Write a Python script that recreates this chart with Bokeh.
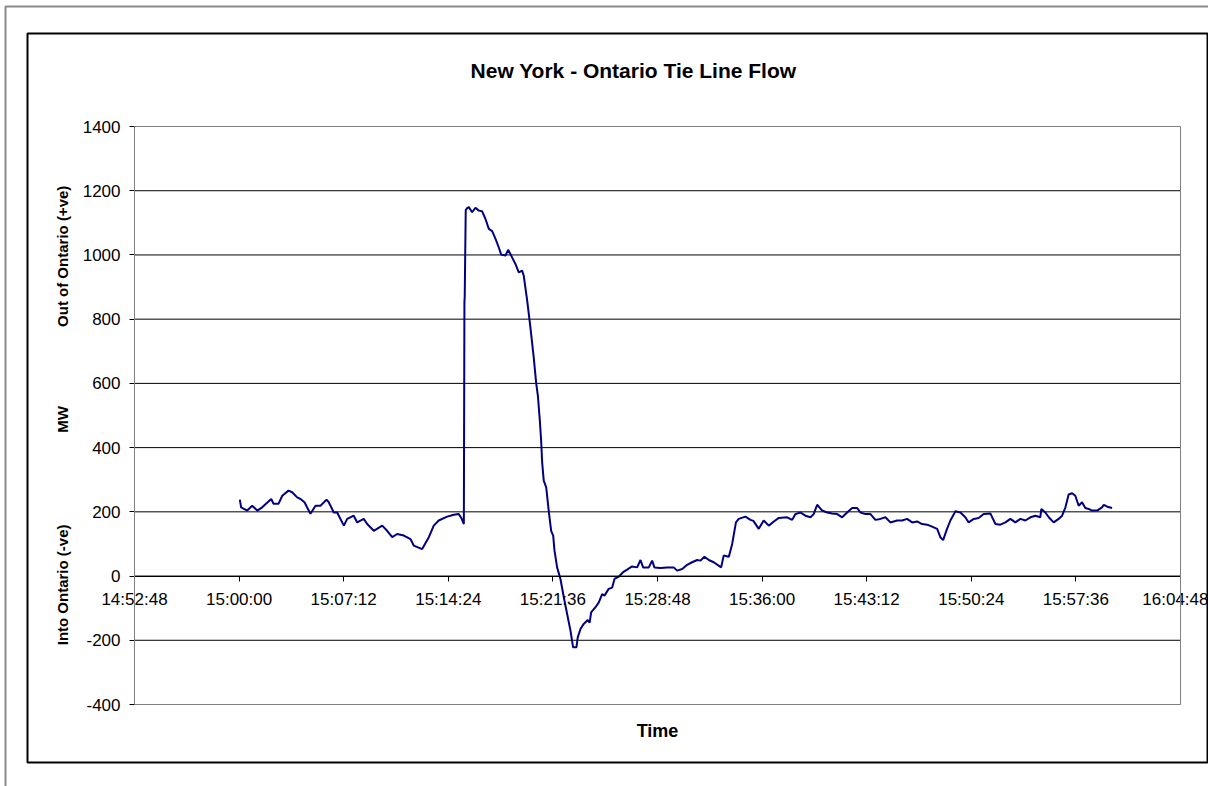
import pandas as pd
from bokeh.plotting import figure
from bokeh.models import (Range1d, FixedTicker, DatetimeTickFormatter, Label,
                          LinearAxis, DatetimeAxis, BoxAnnotation,
                          NumeralTickFormatter)
from bokeh.embed import file_html
from bokeh.resources import INLINE

# ---------------- data ----------------
title_text = "New York - Ontario Tie Line Flow"
x_title = "Time"
y_title_mid = "MW"
y_title_top = "Out of Ontario (+ve)"
y_title_bottom = "Into Ontario (-ve)"

event_date = "2003-08-14"
start_time = "15:00:00"

minutes_after_1500 = [
    0.05, 0.14, 0.56, 0.90, 1.25, 1.59, 2.21, 2.37, 2.71, 2.97,
    3.40, 3.65, 4.00, 4.23, 4.50, 4.91, 5.26, 5.60, 6.02, 6.17,
    6.52, 6.75, 7.21, 7.44, 7.89, 8.13, 8.58, 8.82, 9.27, 9.85,
    10.19, 10.54, 10.88, 11.34, 11.80, 12.02, 12.60, 13.06, 13.40, 13.74,
    14.32, 14.78, 15.12, 15.31, 15.47, 15.51, 15.53, 15.60, 15.70, 15.81,
    16.04, 16.27, 16.50, 16.73, 16.96, 17.19, 17.42, 17.65, 17.87, 18.04,
    18.33, 18.52, 18.73, 19.02, 19.25, 19.48, 19.59, 19.83, 20.05, 20.28,
    20.45, 20.57, 20.70, 20.79, 20.86, 20.97, 21.14, 21.31, 21.48, 21.62,
    21.71, 21.89, 22.12, 22.35, 22.58, 22.81, 22.99, 23.22, 23.31, 23.50,
    23.72, 24.00, 24.13, 24.23, 24.53, 24.76, 24.99, 25.15, 25.44, 25.68,
    25.84, 26.13, 26.43, 26.71, 27.05, 27.40, 27.63, 27.81, 28.20, 28.43,
    28.59, 29.00, 29.46, 29.92, 30.15, 30.50, 30.84, 31.18, 31.53, 31.76,
    32.03, 32.33, 32.67, 33.18, 33.36, 33.71, 33.94, 34.20, 34.39, 34.85,
    35.20, 35.40, 35.77, 36.11, 36.46, 36.81, 37.15, 37.72, 38.07, 38.29,
    38.64, 38.98, 39.33, 39.55, 39.79, 40.13, 40.48, 40.82, 41.17, 41.51,
    41.85, 42.20, 42.54, 42.77, 43.12, 43.46, 43.80, 44.14, 44.49, 44.83,
    45.29, 45.64, 45.98, 46.33, 46.67, 47.01, 47.36, 47.70, 48.05, 48.27,
    48.46, 48.73, 48.96, 49.31, 49.65, 49.99, 50.22, 50.57, 50.91, 51.25,
    51.71, 52.06, 52.40, 52.75, 53.09, 53.43, 53.78, 54.12, 54.47, 54.81,
    55.15, 55.22, 55.50, 55.73, 56.07, 56.41, 56.65, 56.88, 57.10, 57.34,
    57.56, 57.79, 58.02, 58.25, 58.48, 58.71, 59.06, 59.40, 59.52, 59.76,
    60.09,
]

mw = [
    238, 214, 204, 219, 204, 214, 240, 225, 225, 250,
    266, 261, 245, 240, 230, 194, 219, 219, 238, 230,
    198, 198, 157, 178, 188, 167, 178, 162, 141, 157,
    141, 121, 131, 126, 115, 95, 84, 121, 157, 173,
    185, 191, 193, 180, 162, 853, 870, 1140, 1146, 1149,
    1133, 1147, 1138, 1136, 1112, 1081, 1074, 1050, 1024, 1001,
    998, 1016, 998, 972, 946, 951, 936, 858, 775, 681,
    600, 560, 484, 422, 354, 297, 276, 204, 141, 126,
    79, 27, -9, -66, -118, -170, -222, -222, -191, -165,
    -149, -137, -145, -113, -97, -82, -56, -61, -40, -36,
    -9, -2, 12, 20, 30, 27, 50, 27, 27, 48,
    27, 25, 27, 27, 17, 22, 35, 43, 50, 48,
    60, 50, 43, 27, 64, 60, 100, 167, 178, 185,
    175, 172, 147, 173, 157, 170, 181, 183, 175, 193,
    198, 188, 183, 193, 222, 204, 198, 195, 193, 183,
    198, 212, 212, 198, 193, 193, 175, 178, 183, 167,
    173, 173, 178, 167, 170, 162, 160, 154, 147, 121,
    112, 147, 173, 202, 198, 183, 167, 178, 181, 193,
    195, 162, 160, 167, 178, 167, 178, 173, 183, 188,
    183, 209, 198, 183, 167, 178, 188, 214, 254, 258,
    250, 219, 230, 212, 209, 204, 204, 214, 222, 216,
    212,
]

x_tick_labels = ["14:52:48", "15:00:00", "15:07:12", "15:14:24", "15:21:36",
                 "15:28:48", "15:36:00", "15:43:12", "15:50:24", "15:57:36",
                 "16:04:48"]
y_ticks = [-400, -200, 0, 200, 400, 600, 800, 1000, 1200, 1400]

# ---------------- layout geometry (page pixels) ----------------
W, H = 1208, 786
OUT_L, OUT_T = 5, 6                              # outer grey frame
FR_L, FR_T, FR_R, FR_B = 27, 33, 1207, 762       # chart-area box
PA_L, PA_T, PA_R, PA_B = 134, 126, 1180, 704     # plot-area box

base = pd.Timestamp(f"{event_date} {start_time}")
times = [base + pd.Timedelta(minutes=m) for m in minutes_after_1500]
tick_ms = [pd.Timestamp(f"{event_date} {s}").value / 1e6 for s in x_tick_labels]
x0, x1 = tick_ms[0], tick_ms[-1]
y0, y1 = y_ticks[0], y_ticks[-1]

ms_per_px = (x1 - x0) / (PA_R - PA_L)
u_per_px = (y1 - y0) / (PA_B - PA_T)

def px_x(px):
    return x0 + (px - PA_L) * ms_per_px

def px_y(py):
    return y1 - (py - PA_T) * u_per_px

FONT = "Liberation Sans"

p = figure(width=W, height=H,
           x_range=Range1d(px_x(0), px_x(W)),
           y_range=Range1d(px_y(H), px_y(0)),
           x_axis_location=None, y_axis_location=None,
           output_backend="svg", toolbar_location=None,
           min_border_left=0, min_border_top=0,
           min_border_right=0, min_border_bottom=0,
           background_fill_color="white", border_fill_color="white")
p.grid.visible = False
p.outline_line_color = None

# outer grey frame (extends past the window) and black chart-area box
p.add_layout(BoxAnnotation(left=px_x(OUT_L), right=px_x(W + 40),
                           top=px_y(OUT_T), bottom=px_y(H + 40),
                           fill_alpha=0, line_color="#8a8a8a",
                           line_alpha=1, line_width=2))
p.add_layout(BoxAnnotation(left=px_x(FR_L), right=px_x(FR_R),
                           top=px_y(FR_T), bottom=px_y(FR_B),
                           fill_alpha=0, line_color="black",
                           line_alpha=1, line_width=2))

# plot-area border (grey) and horizontal gridlines (black)
p.add_layout(BoxAnnotation(left=x0, right=x1, bottom=y0, top=y1,
                           fill_alpha=0, line_color="#808080",
                           line_alpha=1, line_width=1))
inner = y_ticks[1:-1]
p.segment(x0=[x0] * len(inner), y0=inner, x1=[x1] * len(inner), y1=inner,
          line_color="black", line_width=1)

p.line(times, mw, line_color="#000080", line_width=2)

fmt = "%H:%M:%S"
xa = DatetimeAxis(
    fixed_location=0, bounds=(x0, x1),
    ticker=FixedTicker(ticks=tick_ms),
    formatter=DatetimeTickFormatter(
        microseconds=fmt, milliseconds=fmt, seconds=fmt, minsec=fmt,
        minutes=fmt, hourmin=fmt, hours=fmt, days=fmt, months=fmt, years=fmt))
xa.major_label_text_font = FONT
xa.major_label_text_font_size = "17px"
xa.major_label_text_color = "black"
xa.major_tick_out = 5
xa.major_tick_in = 0
xa.minor_tick_out = 0
xa.minor_tick_in = 0
xa.major_label_standoff = 9
xa.axis_line_color = "black"
xa.major_tick_line_color = "black"
p.add_layout(xa, "below")

NB = "\u00a0"
ya = LinearAxis(fixed_location=x0, bounds=(y0, y1),
                ticker=FixedTicker(ticks=y_ticks),
                formatter=NumeralTickFormatter(format="0"))
ya.major_label_text_font = FONT
ya.major_label_text_font_size = "17px"
ya.major_label_text_color = "black"
ya.major_tick_out = 5
ya.major_tick_in = 0
ya.minor_tick_out = 0
ya.minor_tick_in = 0
ya.major_label_standoff = 9
ya.axis_line_color = "black"
ya.major_tick_line_color = "black"
ya.axis_label = y_title_bottom + NB * 22 + y_title_mid + NB * 19 + y_title_top
ya.axis_label_text_font = FONT
ya.axis_label_text_font_size = "15px"
ya.axis_label_text_font_style = "bold"
ya.axis_label_text_color = "black"
ya.axis_label_standoff = 9
p.add_layout(ya, "left")

p.add_layout(Label(x=px_x(633), y=px_y(70), text=title_text,
                   text_align="center", text_baseline="middle",
                   text_font=FONT, text_font_size="21px",
                   text_font_style="bold", text_color="black"))

p.add_layout(Label(x=tick_ms[5], y=px_y(730), text=x_title,
                   text_align="center", text_baseline="middle",
                   text_font=FONT, text_font_size="18px",
                   text_font_style="bold", text_color="black"))

open("out.html", "w").write(file_html(p, INLINE))
